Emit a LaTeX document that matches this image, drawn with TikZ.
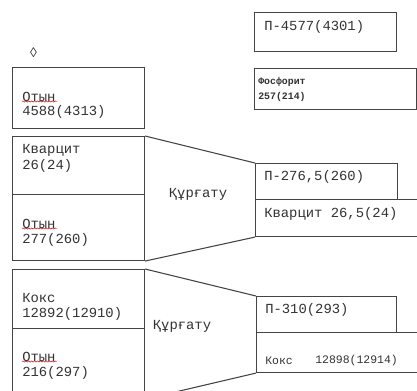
\documentclass[tikz,border=0pt]{standalone}
\usepackage{fontspec}
\setmainfont{Liberation Mono}
\usepackage{tikz}
\usetikzlibrary{decorations.pathmorphing}
\definecolor{ink}{HTML}{333333}
\definecolor{edge}{HTML}{444444}
\tikzstyle{box}=[draw=edge, line width=0.8pt, inner sep=0pt, anchor=north west]
\tikzstyle{txt}=[text=ink, inner sep=0pt, anchor=west, font=\fontsize{10.4}{12}\selectfont]
\tikzstyle{small}=[text=ink, inner sep=0pt, anchor=west, font=\fontsize{8.6}{10}\selectfont]
\tikzstyle{tiny}=[text=ink, inner sep=0pt, anchor=west, font=\bfseries\fontsize{7.4}{9}\selectfont]
\tikzstyle{squig}=[draw=red!80!black, line width=0.35pt, decoration={snake, amplitude=0.45pt, segment length=2.2pt}, decorate]

\begin{document}
\begin{tikzpicture}
        [x=0.75pt,y=-0.75pt]
            \useasboundingbox (0,0) rectangle (417,390);
            \clip (0,0) rectangle (417,390);
            \fill [white] (0,0) rectangle (417,390);
            \node [txt] (mark) at (29,53) {◊};
            \node [box, minimum width=142*0.75pt, minimum height=39*0.75pt] (pfour) at (254,12) {};
            \node [txt] (pfourt) at (264,27) {П-4577(4301)};
            \node [box, minimum width=162*0.75pt, minimum height=41*0.75pt] (fosf) at (254,68) {};
            \node [tiny] (fosft) at (258,82) {Фосфорит};
            \node [tiny] (fosfn) at (258,97) {257(214)};
            \node [box, minimum width=132*0.75pt, minimum height=61*0.75pt] (otynA) at (12,67) {};
            \node [txt] (otynAt) at (22,97) {Отын};
            \node [txt] (otynAn) at (22,112) {4588(4313)};
            \draw [squig] (22,101.5) -- (57,101.5);
            \node [box, minimum width=132*0.75pt, minimum height=58*0.75pt] (kvarc) at (12,136) {};
            \node [txt] (kvarct) at (22,150) {Кварцит};
            \node [txt] (kvarcn) at (22,166) {26(24)};
            \node [box, minimum width=132*0.75pt, minimum height=66*0.75pt] (otynB) at (12,194) {};
            \node [txt] (otynBt) at (22,224) {Отын};
            \node [txt] (otynBn) at (22,240) {277(260)};
            \draw [squig] (22,228.5) -- (57,228.5);
            \node [box, minimum width=142*0.75pt, minimum height=36*0.75pt] (ptwo) at (255,163) {};
            \node [txt] (ptwot) at (264,177) {П-276,5(260)};
            \node [box, minimum width=170*0.75pt, minimum height=37*0.75pt] (kvout) at (255,199) {};
            \node [txt] (kvoutt) at (264,214) {Кварцит 26,5(24)};
            \draw [draw=edge, line width=0.8pt] (kvarc.north east) -- (ptwo.north west);
            \draw [draw=edge, line width=0.8pt] (otynB.south east) -- (kvout.south west);
            \node [txt, anchor=center] (dryA) at (198,194) {Құрғату};
            \node [box, minimum width=132*0.75pt, minimum height=59*0.75pt] (koks) at (12,269) {};
            \node [txt] (kokst) at (22,298) {Кокс};
            \node [txt] (koksn) at (22,314) {12892(12910)};
            \node [box, minimum width=132*0.75pt, minimum height=70*0.75pt] (otynC) at (12,328) {};
            \node [txt] (otynCt) at (22,357) {Отын};
            \node [txt] (otynCn) at (22,373) {216(297)};
            \draw [squig] (22,361.5) -- (57,361.5);
            \node [box, minimum width=140*0.75pt, minimum height=36*0.75pt] (pthr) at (256,296) {};
            \node [txt] (pthrt) at (265,310) {П-310(293)};
            \node [box, minimum width=170*0.75pt, minimum height=40*0.75pt] (koout) at (256,332) {};
            \node [small] (kooutt) at (265,361) {Кокс};
            \node [small] (kooutn) at (315,361) {12898(12914)};
            \draw [draw=edge, line width=0.8pt] (koks.north east) -- (pthr.north west);
            \draw [draw=edge, line width=0.8pt] (otynC.south east) -- (koout.south west);
            \node [txt, anchor=center] (dryB) at (182,326) {Құрғату};
        \end{tikzpicture}
\end{document}
